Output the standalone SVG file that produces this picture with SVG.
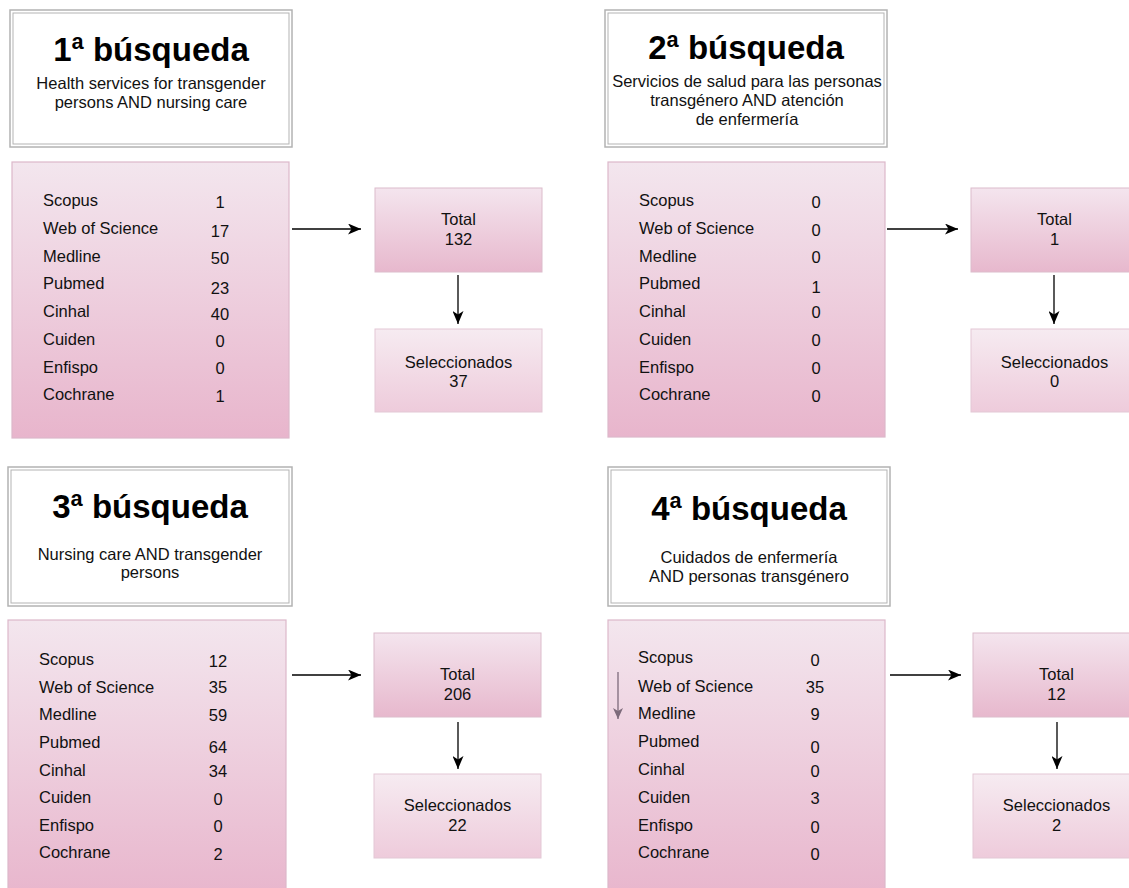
<svg xmlns="http://www.w3.org/2000/svg" width="1129" height="888" viewBox="0 0 1129 888">
  <defs>
    <linearGradient id="gPink" x1="0" y1="0" x2="0" y2="1">
      <stop offset="0" stop-color="#f3e6ee"/>
      <stop offset="1" stop-color="#e8b5cc"/>
    </linearGradient>
    <linearGradient id="gTotal" x1="0" y1="0" x2="0" y2="1">
      <stop offset="0" stop-color="#f4e5ee"/>
      <stop offset="1" stop-color="#e7b8cd"/>
    </linearGradient>
    <linearGradient id="gSel" x1="0" y1="0" x2="0" y2="1">
      <stop offset="0" stop-color="#f6ebf1"/>
      <stop offset="1" stop-color="#eecbdb"/>
    </linearGradient>
    <marker id="ah" markerWidth="14" markerHeight="11" refX="13" refY="5.5" orient="auto" markerUnits="userSpaceOnUse">
      <path d="M0,0 L13,5.5 L0,11 L3.5,5.5 z" fill="#000"/>
    </marker>
    <marker id="ahg" markerWidth="12" markerHeight="10" refX="11" refY="5" orient="auto" markerUnits="userSpaceOnUse">
      <path d="M0,0 L11,5 L0,10 L3,5 z" fill="#7d6b7b"/>
    </marker>
    <style>
      text { font-family: "Liberation Sans", Arial, sans-serif; fill: #111; }
      .title { font-size: 33px; font-weight: bold; text-anchor: middle; fill: #000; }
      .sub { font-size: 16.5px; text-anchor: middle; }
      .lbl { font-size: 16.5px; }
      .num { font-size: 16.5px; text-anchor: middle; }
      .ctr { font-size: 16.5px; text-anchor: middle; }
      .hdrO { fill: #fff; stroke: #b3b3b3; stroke-width: 1.5; }
      .hdrI { fill: none; stroke: #b3b3b3; stroke-width: 1; }
      .pink { fill: url(#gPink); stroke: #dcb8ca; stroke-width: 1.2; }
      .tot { fill: url(#gTotal); stroke: #dcbccb; stroke-width: 1; }
      .sel { fill: url(#gSel); stroke: #e3c8d5; stroke-width: 1; }
      .conn { stroke: #000; stroke-width: 1.3; fill: none; marker-end: url(#ah); }
      .connG { stroke: #7d6b7b; stroke-width: 1.3; fill: none; marker-end: url(#ahg); }
    </style>
  </defs>
  <rect width="1129" height="888" fill="#fff"/>

  <!-- Quadrant 1 -->
  <g id="header1">
    <rect class="hdrO" x="10" y="10" width="282" height="137"/>
    <rect class="hdrI" x="13" y="13" width="276" height="131"/>
    <text class="title" x="151" y="61">1ª búsqueda</text>
    <text class="sub" x="151" y="89">Health services for transgender</text>
    <text class="sub" x="151" y="108">persons AND nursing care</text>
  </g>
  <g id="databases1">
    <rect class="pink" x="12" y="162" width="277" height="276"/>
    <text class="lbl" x="43" y="206">Scopus</text>
    <text class="lbl" x="43" y="234">Web of Science</text>
    <text class="lbl" x="43" y="262">Medline</text>
    <text class="lbl" x="43" y="289">Pubmed</text>
    <text class="lbl" x="43" y="317">Cinhal</text>
    <text class="lbl" x="43" y="345">Cuiden</text>
    <text class="lbl" x="43" y="373">Enfispo</text>
    <text class="lbl" x="43" y="400">Cochrane</text>
    <text class="num" x="220" y="208">1</text>
    <text class="num" x="220" y="237">17</text>
    <text class="num" x="220" y="264">50</text>
    <text class="num" x="220" y="294">23</text>
    <text class="num" x="220" y="320">40</text>
    <text class="num" x="220" y="347">0</text>
    <text class="num" x="220" y="374">0</text>
    <text class="num" x="220" y="402">1</text>
  </g>
  <g id="total1">
    <rect class="tot" x="375" y="188" width="167" height="84"/>
    <text class="ctr" x="458.5" y="225">Total</text>
    <text class="ctr" x="458.5" y="245">132</text>
  </g>
  <g id="sel1">
    <rect class="sel" x="375" y="329" width="167" height="83"/>
    <text class="ctr" x="458.5" y="368">Seleccionados</text>
    <text class="ctr" x="458.5" y="387">37</text>
  </g>

  <!-- Quadrant 2 -->
  <g id="header2">
    <rect class="hdrO" x="605" y="10" width="282" height="137"/>
    <rect class="hdrI" x="608" y="13" width="276" height="131"/>
    <text class="title" x="746" y="59">2ª búsqueda</text>
    <text class="sub" x="747" y="87">Servicios de salud para las personas</text>
    <text class="sub" x="747" y="106">transgénero AND atención</text>
    <text class="sub" x="747" y="125">de enfermería</text>
  </g>
  <g id="databases2">
    <rect class="pink" x="608" y="162" width="277" height="275"/>
    <text class="lbl" x="639" y="206">Scopus</text>
    <text class="lbl" x="639" y="234">Web of Science</text>
    <text class="lbl" x="639" y="262">Medline</text>
    <text class="lbl" x="639" y="289">Pubmed</text>
    <text class="lbl" x="639" y="317">Cinhal</text>
    <text class="lbl" x="639" y="345">Cuiden</text>
    <text class="lbl" x="639" y="373">Enfispo</text>
    <text class="lbl" x="639" y="400">Cochrane</text>
    <text class="num" x="816" y="208">0</text>
    <text class="num" x="816" y="236">0</text>
    <text class="num" x="816" y="263">0</text>
    <text class="num" x="816" y="293">1</text>
    <text class="num" x="816" y="318">0</text>
    <text class="num" x="816" y="346">0</text>
    <text class="num" x="816" y="374">0</text>
    <text class="num" x="816" y="402">0</text>
  </g>
  <g id="total2">
    <rect class="tot" x="971" y="188" width="167" height="84"/>
    <text class="ctr" x="1054.5" y="225">Total</text>
    <text class="ctr" x="1054.5" y="245">1</text>
  </g>
  <g id="sel2">
    <rect class="sel" x="971" y="329" width="167" height="83"/>
    <text class="ctr" x="1054.5" y="368">Seleccionados</text>
    <text class="ctr" x="1054.5" y="387">0</text>
  </g>

  <!-- Quadrant 3 -->
  <g id="header3">
    <rect class="hdrO" x="8" y="467" width="284" height="139"/>
    <rect class="hdrI" x="11" y="470" width="278" height="133"/>
    <text class="title" x="150" y="518">3ª búsqueda</text>
    <text class="sub" x="150" y="560">Nursing care AND transgender</text>
    <text class="sub" x="150" y="578">persons</text>
  </g>
  <g id="databases3">
    <rect class="pink" x="8" y="620" width="278" height="280"/>
    <text class="lbl" x="39" y="665">Scopus</text>
    <text class="lbl" x="39" y="693">Web of Science</text>
    <text class="lbl" x="39" y="720">Medline</text>
    <text class="lbl" x="39" y="748">Pubmed</text>
    <text class="lbl" x="39" y="776">Cinhal</text>
    <text class="lbl" x="39" y="803">Cuiden</text>
    <text class="lbl" x="39" y="831">Enfispo</text>
    <text class="lbl" x="39" y="858">Cochrane</text>
    <text class="num" x="218" y="667">12</text>
    <text class="num" x="218" y="693">35</text>
    <text class="num" x="218" y="721">59</text>
    <text class="num" x="218" y="753">64</text>
    <text class="num" x="218" y="777">34</text>
    <text class="num" x="218" y="805">0</text>
    <text class="num" x="218" y="832">0</text>
    <text class="num" x="218" y="860">2</text>
  </g>
  <g id="total3">
    <rect class="tot" x="374" y="633" width="167" height="84"/>
    <text class="ctr" x="457.5" y="680">Total</text>
    <text class="ctr" x="457.5" y="700">206</text>
  </g>
  <g id="sel3">
    <rect class="sel" x="374" y="774" width="167" height="84"/>
    <text class="ctr" x="457.5" y="811">Seleccionados</text>
    <text class="ctr" x="457.5" y="831">22</text>
  </g>

  <!-- Quadrant 4 -->
  <g id="header4">
    <rect class="hdrO" x="608" y="467" width="282" height="139"/>
    <rect class="hdrI" x="611" y="470" width="276" height="133"/>
    <text class="title" x="749" y="520">4ª búsqueda</text>
    <text class="sub" x="749" y="563">Cuidados de enfermería</text>
    <text class="sub" x="749" y="582">AND personas transgénero</text>
  </g>
  <g id="databases4">
    <rect class="pink" x="608" y="620" width="277" height="280"/>
    <text class="lbl" x="638" y="663">Scopus</text>
    <text class="lbl" x="638" y="692">Web of Science</text>
    <text class="lbl" x="638" y="719">Medline</text>
    <text class="lbl" x="638" y="747">Pubmed</text>
    <text class="lbl" x="638" y="775">Cinhal</text>
    <text class="lbl" x="638" y="803">Cuiden</text>
    <text class="lbl" x="638" y="831">Enfispo</text>
    <text class="lbl" x="638" y="858">Cochrane</text>
    <text class="num" x="815" y="666">0</text>
    <text class="num" x="815" y="693">35</text>
    <text class="num" x="815" y="720">9</text>
    <text class="num" x="815" y="753">0</text>
    <text class="num" x="815" y="777">0</text>
    <text class="num" x="815" y="804">3</text>
    <text class="num" x="815" y="833">0</text>
    <text class="num" x="815" y="860">0</text>
  </g>
  <g id="total4">
    <rect class="tot" x="973" y="633" width="167" height="84"/>
    <text class="ctr" x="1056.5" y="680">Total</text>
    <text class="ctr" x="1056.5" y="700">12</text>
  </g>
  <g id="sel4">
    <rect class="sel" x="973" y="774" width="167" height="84"/>
    <text class="ctr" x="1056.5" y="811">Seleccionados</text>
    <text class="ctr" x="1056.5" y="831">2</text>
  </g>

  <!-- Connectors -->
  <g id="connectors">
    <line class="conn" x1="292" y1="229" x2="361" y2="229"/>
    <line class="conn" x1="458" y1="275" x2="458" y2="324"/>
    <line class="conn" x1="887" y1="229" x2="958" y2="229"/>
    <line class="conn" x1="1054" y1="275" x2="1054" y2="324"/>
    <line class="conn" x1="292" y1="675" x2="361" y2="675"/>
    <line class="conn" x1="458" y1="722" x2="458" y2="769"/>
    <line class="conn" x1="890" y1="675" x2="961" y2="675"/>
    <line class="conn" x1="1057" y1="722" x2="1057" y2="769"/>
    <line class="connG" x1="618" y1="672" x2="618" y2="719"/>
  </g>
</svg>
